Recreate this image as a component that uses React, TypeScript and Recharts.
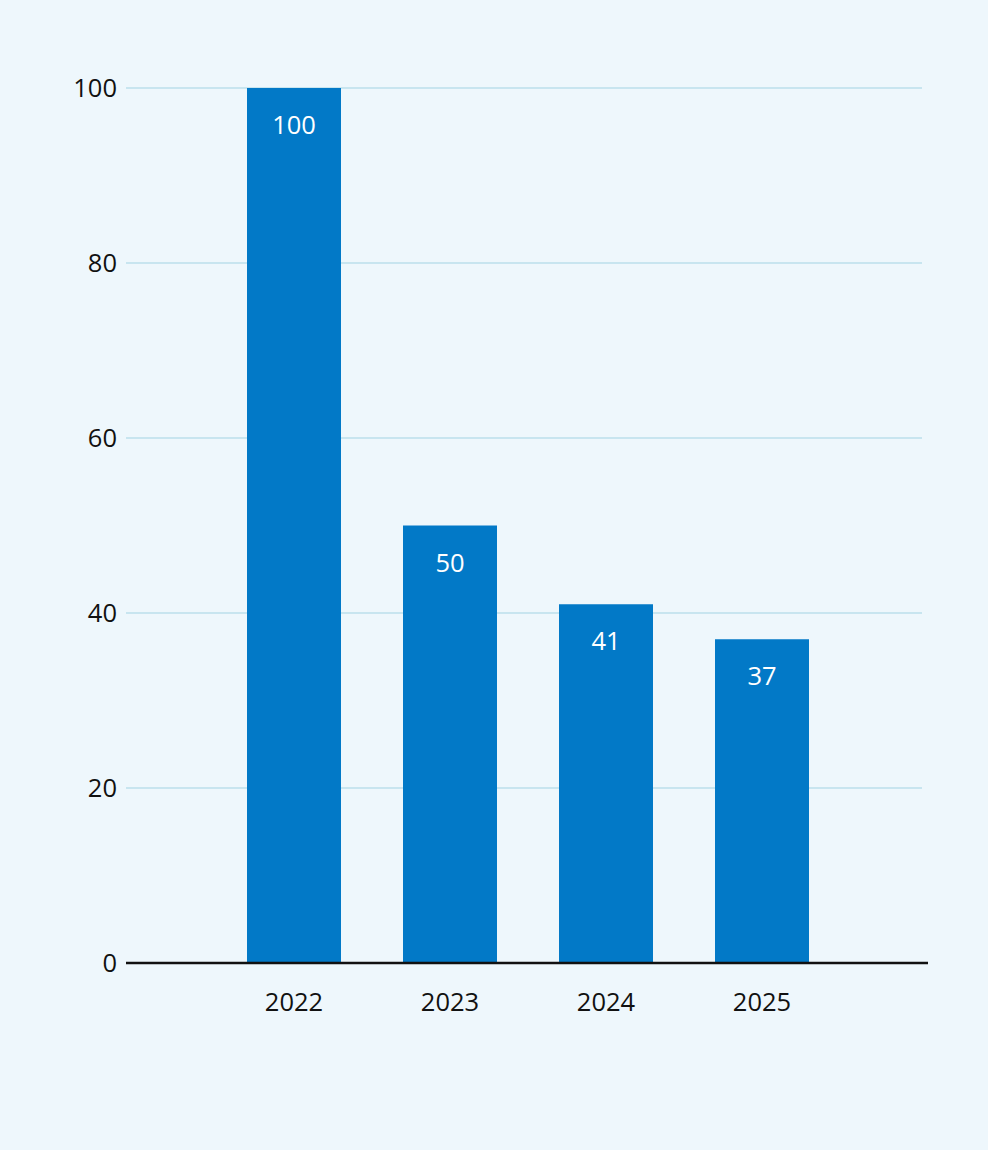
import React from "react";
import { BarChart, Bar, XAxis, YAxis, CartesianGrid, LabelList } from "recharts";

const years = ["2022", "2023", "2024", "2025"];
const values = [100, 50, 41, 37];
const yTicks = [0, 20, 40, 60, 80, 100];

const data = years.map((y, i) => ({ year: y, value: values[i] }));

const FONT = "'Open Sans', 'Noto Sans', sans-serif";

export default function App() {
  return (
    <div
      style={{
        position: "absolute",
        left: 0,
        top: 0,
        width: 988,
        height: 1150,
        background: "#EEF7FC",
        fontFamily: FONT,
      }}
    >
      <BarChart
        width={988}
        height={1150}
        data={data}
        margin={{ top: 88, right: 60, bottom: 137, left: 0 }}
      >
        <CartesianGrid
          vertical={false}
          stroke="#A2D3E3"
          strokeWidth={1}
          x={126}
          width={796}
        />
        <XAxis
          dataKey="year"
          height={50}
          padding={{ left: 90, right: 88 }}
          tickLine={false}
          tickSize={0}
          tickMargin={30}
          axisLine={{ stroke: "#111111", strokeWidth: 2.5 }}
          tick={{ fill: "#111111", fontSize: 25.5, fontFamily: FONT }}
        />
        <YAxis
          width={126}
          domain={[0, 100]}
          ticks={yTicks}
          axisLine={false}
          tickLine={false}
          tickSize={0}
          tickMargin={9}
          tick={{ fill: "#111111", fontSize: 25.5, fontFamily: FONT }}
        />
        <Bar dataKey="value" fill="#0279C7" barSize={94} isAnimationActive={false}>
          <LabelList
            dataKey="value"
            position="insideTop"
            offset={28}
            fill="#ffffff"
            style={{ fontSize: 25.5, fontFamily: FONT }}
          />
        </Bar>
      </BarChart>
    </div>
  );
}
